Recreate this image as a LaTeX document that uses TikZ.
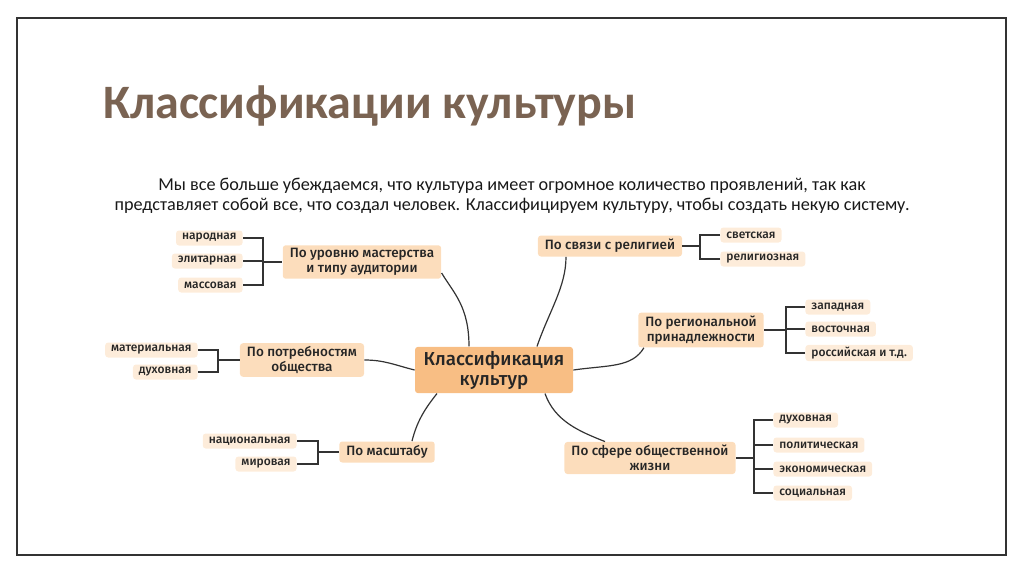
\documentclass[tikz,border=0pt]{standalone}
\usepackage{fontspec}
\setmainfont{Carlito}
\newfontfamily\mapfont{Fira Sans}[BoldFont={Fira Sans Medium}]
\definecolor{titlebrown}{HTML}{7A6352}
\definecolor{corefill}{HTML}{F8BE84}
\definecolor{branchfill}{HTML}{FCDDBC}
\definecolor{leaffill}{HTML}{FDECDA}
\definecolor{linkgray}{HTML}{333333}

\begin{document}
\begin{tikzpicture}[x=0.5pt,y=-0.5pt,every node/.style={font=\mapfont\bfseries,text=black!85},
    core/.style={fill=corefill,rounded corners=1.5pt,align=center,inner xsep=4pt,inner ysep=2pt,
        minimum width=79pt,minimum height=22.5pt,font=\mapfont\bfseries\fontsize{9.4}{10}\selectfont},
    branch/.style={fill=branchfill,rounded corners=1.5pt,align=center,inner xsep=3.5pt,inner ysep=1.5pt,
        minimum height=10.5pt,font=\mapfont\bfseries\fontsize{6.75}{7.6}\selectfont},
    leaf/.style={fill=leaffill,rounded corners=1.5pt,inner xsep=3pt,inner ysep=1pt,
        minimum height=7.5pt,font=\mapfont\bfseries\fontsize{6}{6.5}\selectfont},
    link/.style={draw=linkgray,line width=0.6pt}]
                \useasboundingbox (0,0) rectangle (1024,574);
                \draw[linkgray,line width=1pt] (17,18) rectangle (1006,555);
                \node[anchor=west,font=\bfseries\fontsize{24}{28}\selectfont,text=titlebrown] (title) at (96,106) {Классификации культуры};
                \node[align=center,font=\fontsize{9.1}{10}\selectfont,text=black!90] (intro) at (512,196)
                    {Мы все больше убеждаемся, что культура имеет огромное количество проявлений, так как\\
                     представляет собой все, что создал человек. Классифицируем культуру, чтобы создать некую систему.};

                \node[core] (core) at (494,370) {Классификация\\культур};
                \node[branch] (c1) at (362,262) {По уровню мастерства\\и типу аудитории};
                \node[branch] (c2) at (610,246) {По связи с религией};
                \node[branch] (c3) at (701,330) {По региональной\\принадлежности};
                \node[branch] (c4) at (302,360) {По потребностям\\общества};
                \node[branch] (c5) at (387,452) {По масштабу};
                \node[branch] (c6) at (650,458) {По сфере общественной\\жизни};

                \draw[link] ([xshift=-12.5pt]core.north) .. controls +(0,-40) and +(12,20) .. ([yshift=-5.5pt]c1.east);
                \draw[link] ([xshift=21.5pt]core.north) .. controls +(12,-35) and +(0,30) .. ([xshift=-22pt]c2.south);
                \draw[link] (core.east) .. controls +(35,-5) and +(-12,20) .. ([xshift=3pt]c3.south west);
                \draw[link] (core.west) .. controls +(-20,-5) and +(20,0) .. (c4.east);
                \draw[link] ([xshift=-28.5pt]core.south) .. controls +(-12,15) and +(5,-20) .. ([xshift=12.5pt]c5.north);
                \draw[link] ([xshift=25.5pt]core.south) .. controls +(10,28) and +(-25,-10) .. ([xshift=-22.5pt]c6.north);

                \coordinate (b1) at (263,0);
                \coordinate (b2) at (700,0);
                \coordinate (b3) at (786,0);
                \coordinate (b4) at (218,0);
                \coordinate (b5) at (318,0);
                \coordinate (b6) at (754,0);

                \foreach \n/\t/\y in {a/народная/238,b/элитарная/261,c/массовая/285}{
                    \node[leaf,anchor=east] (l1\n) at (243,\y) {\t};
                    \draw[link] (l1\n.east) -- (l1\n.east -| b1) |- (c1.west);
                }
                \foreach \n/\t/\y in {a/светская/235,b/религиозная/259}{
                    \node[leaf,anchor=west] (l2\n) at (720,\y) {\t};
                    \draw[link] (l2\n.west) -- (l2\n.west -| b2) |- (c2.east);
                }
                \foreach \n/\t/\y in {a/западная/307,b/восточная/329,c/российская и т.д./353}{
                    \node[leaf,anchor=west] (l3\n) at (805,\y) {\t};
                    \draw[link] (l3\n.west) -- (l3\n.west -| b3) |- (c3.east);
                }
                \foreach \n/\t/\y in {a/материальная/350,b/духовная/372}{
                    \node[leaf,anchor=east] (l4\n) at (198,\y) {\t};
                    \draw[link] (l4\n.east) -- (l4\n.east -| b4) |- (c4.west);
                }
                \foreach \n/\t/\y in {a/национальная/441,b/мировая/464}{
                    \node[leaf,anchor=east] (l5\n) at (297,\y) {\t};
                    \draw[link] (l5\n.east) -- (l5\n.east -| b5) |- (c5.west);
                }
                \foreach \n/\t/\y in {a/духовная/420,b/политическая/445,c/экономическая/469,d/социальная/493}{
                    \node[leaf,anchor=west] (l6\n) at (773,\y) {\t};
                    \draw[link] (l6\n.west) -- (l6\n.west -| b6) |- (c6.east);
                }
            \end{tikzpicture}
\end{document}
